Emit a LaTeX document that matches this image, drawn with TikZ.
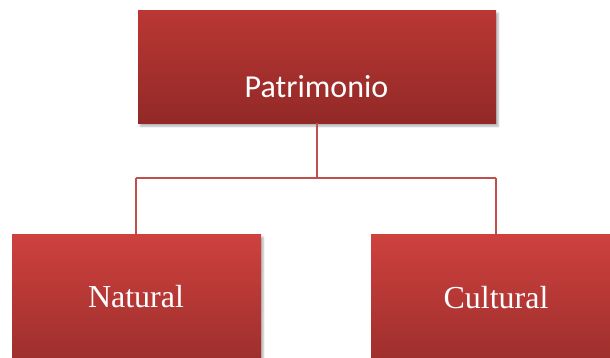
\documentclass[tikz,border=0pt]{standalone}
\usepackage{fontspec}
\setmainfont{Liberation Serif}
\newfontfamily\calib{Carlito}
\usetikzlibrary{shadows.blur}
\definecolor{topA}{HTML}{BA3734}
\definecolor{topB}{HTML}{922927}
\definecolor{botA}{HTML}{CE413E}
\definecolor{botB}{HTML}{9C2E2C}
\definecolor{conn}{HTML}{C0504D}
\tikzset{
  boxtop/.style={rectangle, draw=none, inner sep=0pt, anchor=north west,
    top color=topA, bottom color=topB,
    blur shadow={shadow xshift=2pt, shadow yshift=-3pt, shadow blur steps=6, shadow opacity=30}},
  boxbot/.style={rectangle, draw=none, inner sep=0pt, anchor=north west,
    top color=botA, bottom color=botB,
    blur shadow={shadow xshift=2pt, shadow yshift=-3pt, shadow blur steps=6, shadow opacity=30}},
  lbl/.style={anchor=base, text=white, inner sep=0pt},
  link/.style={draw=conn, line width=1.3pt}
}
\begin{document}
\begin{tikzpicture}[x=1pt,y=-1pt]
\useasboundingbox (0,0) rectangle (610,358);
\node[boxtop, minimum width=358pt, minimum height=113pt] (top) at (138,10) {};
\node[boxbot, minimum width=249pt, minimum height=130pt] (left) at (12,234) {};
\node[boxbot, minimum width=245pt, minimum height=130pt] (right) at (371,234) {};
\node[lbl, font=\calib\fontsize{32}{38}\selectfont] (tl) at (316.5,98) {Patrimonio};
\node[lbl, font=\fontsize{32}{38}\selectfont] (ll) at (136,307) {Natural};
\node[lbl, font=\fontsize{32}{38}\selectfont] (rl) at (496,308) {Cultural};
\coordinate (j) at (317,178);
\coordinate (jl) at (136,178);
\coordinate (jr) at (496,178);
\draw[link] (top.south -| j) -- (j);
\draw[link] (jl) -- (jr);
\draw[link] (jl) -- (jl |- left.north);
\draw[link] (jr) -- (jr |- right.north);
\end{tikzpicture}
\end{document}
